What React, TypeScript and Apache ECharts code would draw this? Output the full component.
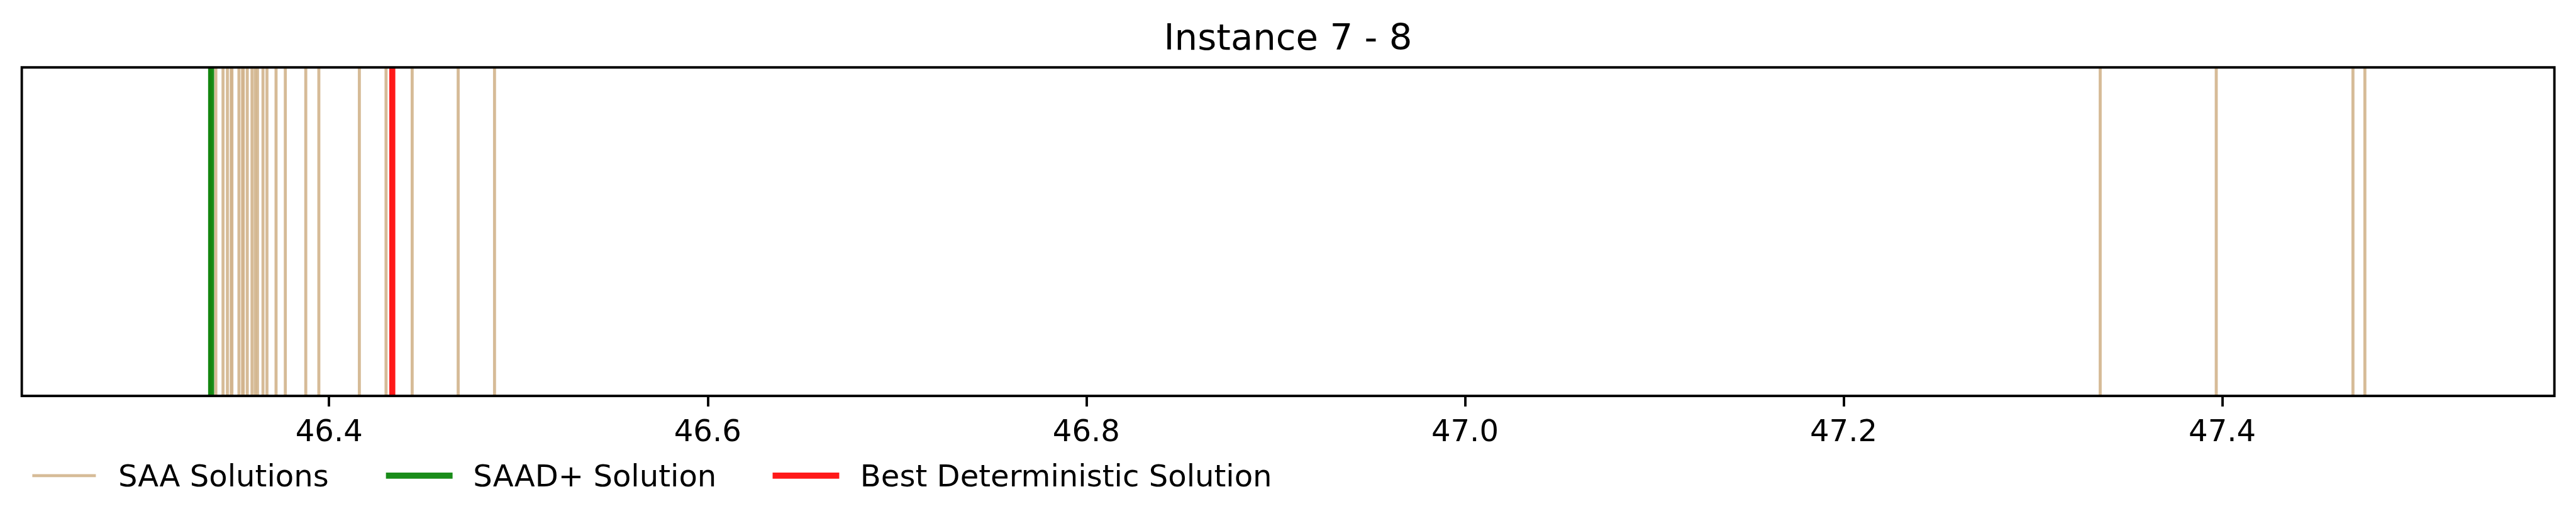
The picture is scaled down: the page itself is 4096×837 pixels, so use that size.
import React, { useEffect, useRef } from "react";
import * as echarts from "echarts";

// ---- data ----
const titleText = "Instance 7 - 8";
const saaSolutions = [
  46.3372, 46.3402, 46.344, 46.3463, 46.3483, 46.3487, 46.3524, 46.3543,
  46.3547, 46.3568, 46.3593, 46.361, 46.3622, 46.3651, 46.3672, 46.372,
  46.3769, 46.3877, 46.3946, 46.416, 46.4301, 46.4439, 46.4682, 46.4874,
  47.3355, 47.3968, 47.469, 47.4753,
];
const saadPlusSolution = [46.3377];
const bestDeterministicSolution = [46.4334];
const tickValues = [46.4, 46.6, 46.8, 47.0, 47.2, 47.4];
const xRange = [46.2377, 47.5754];
const seriesNames = ["SAA Solutions", "SAAD+ Solution", "Best Deterministic Solution"];

// ---- styles ----
const S = 4096 / 7095;
const FONT = "DejaVu Sans";
const TAN = "rgba(210,180,140,0.9)";
const GREEN = "rgba(0,128,0,0.9)";
const RED = "rgba(255,0,0,0.9)";
const thinW = 8.333 * S;
const thickW = 16.667 * S;
const spineW = 6.667 * S;
const fontSm = 83.33 * S;
const fontLg = 100 * S;

function vlineSeries(name: string, values: number[], color: string, width: number, z: number) {
  return {
    name,
    type: "custom",
    coordinateSystem: "cartesian2d",
    silent: true,
    z,
    data: values.map((v) => [v, 0.5]),
    encode: { x: 0, y: 1 },
    itemStyle: { color },
    renderItem: (params: any, api: any) => {
      const cs = params.coordSys;
      const x = api.coord([api.value(0), 0.5])[0];
      return {
        type: "line",
        shape: { x1: x, y1: cs.y, x2: x, y2: cs.y + cs.height },
        style: { stroke: color, lineWidth: width, fill: null },
        silent: true,
      };
    },
  };
}

function legendFor(name: string, color: string, left: number, width: number, height: number, padLeft: number) {
  return {
    show: true,
    data: [{ name, icon: "rect" }],
    left,
    top: 756.9 - fontSm / 2,
    padding: 0,
    itemWidth: width,
    itemHeight: height,
    itemGap: 0,
    selectedMode: false,
    itemStyle: { color, borderWidth: 0 },
    textStyle: {
      fontFamily: FONT,
      fontSize: fontSm,
      color: "#000",
      padding: [0, 0, 0, padLeft],
    },
  };
}

export default function App() {
  const ref = useRef<HTMLDivElement>(null);
  useEffect(() => {
    if (!ref.current) return;
    const chart = echarts.init(ref.current, undefined, { renderer: "svg" });
    chart.setOption({
      animation: false,
      backgroundColor: "#fff",
      title: {
        text: titleText,
        left: "center",
        top: 29.5,
        padding: 0,
        textStyle: { fontFamily: FONT, fontSize: fontLg, fontWeight: "normal", color: "#000" },
      },
      legend: [
        legendFor(seriesNames[0], TAN, 89 * S, 175 * S, thinW, 30.5),
        legendFor(seriesNames[1], GREEN, 1063 * S, 183.5 * S, thickW, 27.6),
        legendFor(seriesNames[2], RED, 2128 * S, 183.5 * S, thickW, 28.4),
      ],
      grid: {
        show: true,
        z: 5,
        left: 60 * S,
        right: 4096 - 7035.5 * S,
        top: 185.7 * S,
        bottom: 837 - 1091.3 * S,
        borderColor: "#000",
        borderWidth: spineW,
        backgroundColor: "transparent",
      },
      xAxis: {
        type: "value",
        min: xRange[0],
        max: xRange[1],
        axisLine: { show: false },
        splitLine: { show: false },
        axisTick: {
          show: true,
          customValues: tickValues,
          length: 29.17 * S,
          lineStyle: { color: "#000", width: spineW },
        },
        axisLabel: {
          show: true,
          customValues: tickValues,
          formatter: (v: number) => v.toFixed(1),
          fontFamily: FONT,
          fontSize: fontSm,
          color: "#000",
          margin: 30.7,
        },
      },
      yAxis: {
        type: "value",
        min: 0,
        max: 1,
        show: false,
        splitLine: { show: false },
      },
      series: [
        vlineSeries(seriesNames[0], saaSolutions, TAN, thinW, 2),
        vlineSeries(seriesNames[1], saadPlusSolution, GREEN, thickW, 3),
        vlineSeries(seriesNames[2], bestDeterministicSolution, RED, thickW, 4),
      ],
    });
    return () => chart.dispose();
  }, []);
  return (
    <div
      ref={ref}
      style={{ position: "absolute", left: 0, top: 0, width: 4096, height: 837, background: "#fff" }}
    />
  );
}
